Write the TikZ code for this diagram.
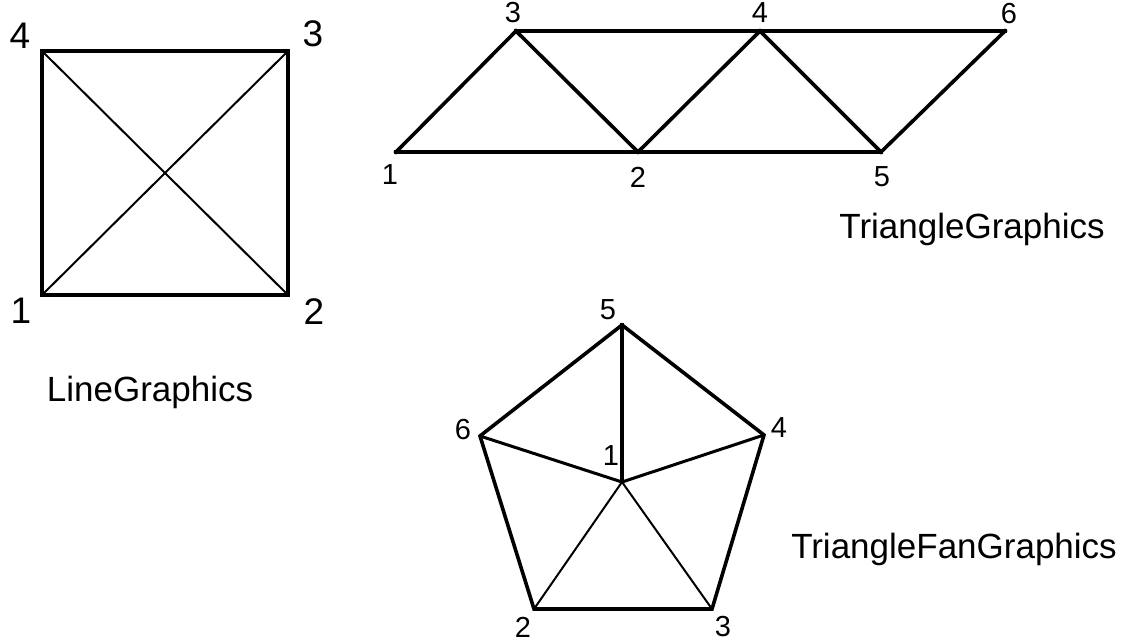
\documentclass[tikz,border=0pt]{standalone}
\usepackage{fontspec}
\setmainfont{Liberation Sans}
\begin{document}
\begin{tikzpicture}[x=1pt,y=-1pt,
  thick line/.style={line width=3.6pt, line join=miter, line cap=rect},
  thin line/.style={line width=2pt},
  mid line/.style={line width=3pt},
  bignum/.style={inner sep=0pt, font=\fontsize{37}{37}\selectfont},
  smallnum/.style={inner sep=0pt, font=\fontsize{29}{29}\selectfont},
  caption/.style={inner sep=0pt, font=\fontsize{35}{35}\selectfont}]
\useasboundingbox (0,0) rectangle (1127,643);
% ---- LineGraphics square
\coordinate (s1) at (42,295);
\coordinate (s2) at (288,295);
\coordinate (s3) at (288,51);
\coordinate (s4) at (42,51);
\draw[thin line] (s1) -- (s3);
\draw[thin line] (s4) -- (s2);
\draw[thick line] (s1) -- (s2) -- (s3) -- (s4) -- cycle;
\node[bignum] (ls4) at (20,36) {4};
\node[bignum] (ls3) at (313,34) {3};
\node[bignum] (ls1) at (21,311) {1};
\node[bignum] (ls2) at (314,312) {2};
\node[caption] (cap1) at (150,392) {LineGraphics};
% ---- TriangleGraphics strip
\coordinate (t1) at (396,152);
\coordinate (t2) at (638,152);
\coordinate (t3) at (516,31);
\coordinate (t4) at (760,31);
\coordinate (t5) at (881,152);
\coordinate (t6) at (1005,31);
\draw[thick line] (t1) -- (t5);
\draw[thick line] (t3) -- (t6);
\draw[thick line] (t1) -- (t3) -- (t2) -- (t4) -- (t5) -- (t6);
\node[smallnum] (lt3) at (513,13) {3};
\node[smallnum] (lt4) at (760,13) {4};
\node[smallnum] (lt6) at (1009,14) {6};
\node[smallnum] (lt1) at (390,175) {1};
\node[smallnum] (lt2) at (638,177) {2};
\node[smallnum] (lt5) at (882,177) {5};
\node[caption] (cap2) at (972,229) {TriangleGraphics};
% ---- TriangleFanGraphics pentagon
\coordinate (f1) at (622,482);
\coordinate (f5) at (622,325);
\coordinate (f4) at (764,435);
\coordinate (f3) at (712,609);
\coordinate (f2) at (534,609);
\coordinate (f6) at (480,436);
\draw[thick line] (f5) -- (f4) -- (f3) -- (f2) -- (f6) -- cycle;
\draw[thick line] (f1) -- (f5);
\draw[mid line] (f1) -- (f4);
\draw[mid line] (f1) -- (f6);
\draw[thin line] (f1) -- (f2);
\draw[thin line] (f1) -- (f3);
\node[smallnum] (lf5) at (608,310) {5};
\node[smallnum] (lf4) at (779,428) {4};
\node[smallnum] (lf6) at (463,430) {6};
\node[smallnum] (lf1) at (611,456) {1};
\node[smallnum] (lf2) at (523,627) {2};
\node[smallnum] (lf3) at (723,627) {3};
\node[caption] (cap3) at (954,549) {TriangleFanGraphics};
\end{tikzpicture}
\end{document}
